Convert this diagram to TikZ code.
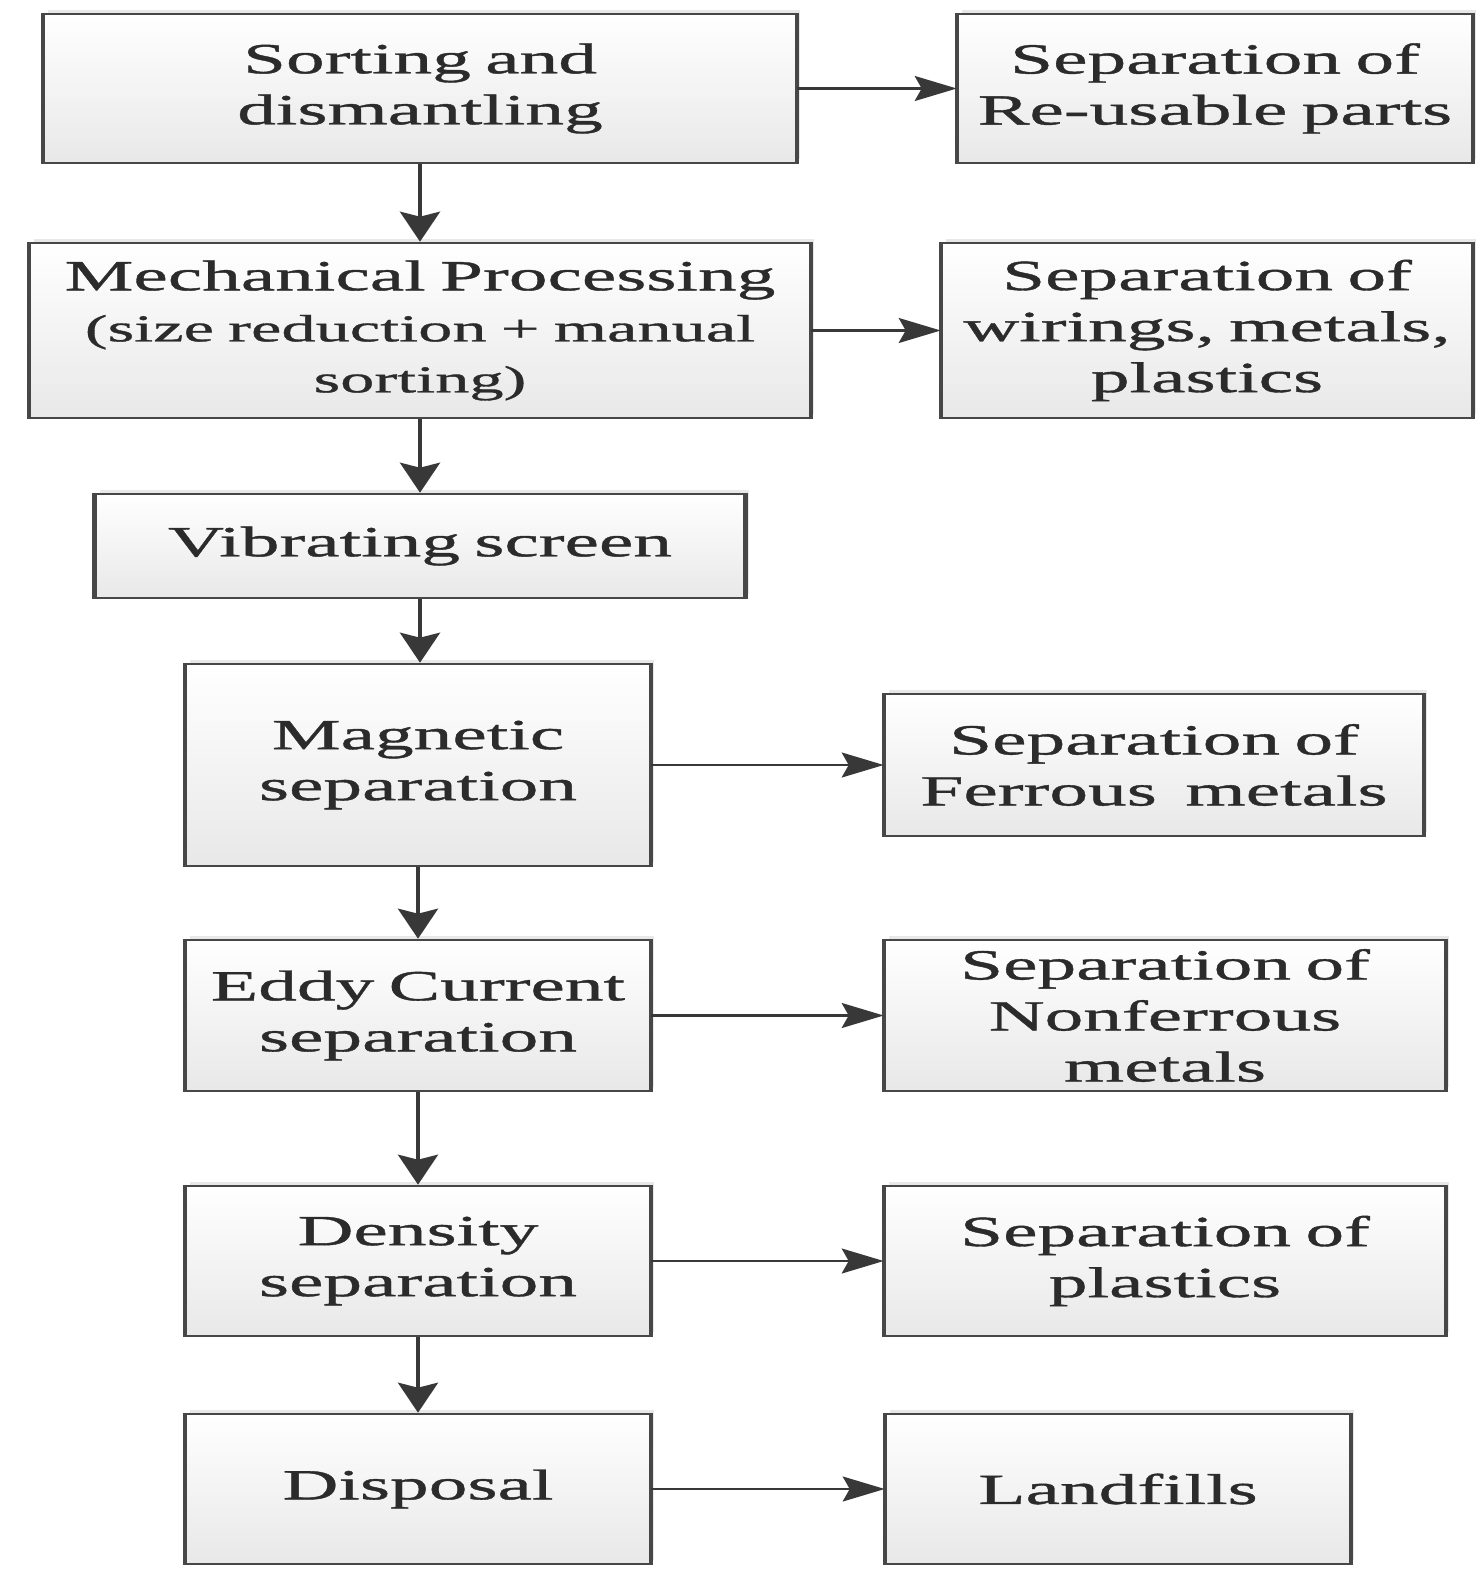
\documentclass[tikz,border=0pt]{standalone}
\usepackage{fontspec}
\setmainfont{Liberation Serif}[FakeStretch=1.8,FakeBold=0.9]
\usetikzlibrary{arrows.meta,shadows}
\definecolor{bd}{HTML}{474747}
\definecolor{tx}{HTML}{2B2B2B}
\definecolor{ar}{HTML}{383838}
\begin{document}
\begin{tikzpicture}[x=1pt,y=-1pt,
  flowbox/.style={draw=bd, line width=2.6pt, top color=white, bottom color=black!9,
    align=center, inner sep=0pt, text=tx,
    font=\fontsize{43}{51}\selectfont,
    drop shadow={opacity=0.18, shadow xshift=4pt, shadow yshift=4pt}},
  varrow/.style={draw=ar, line width=3.6pt, -{Stealth[length=30pt,width=40pt,inset=5pt]}},
  harrow/.style={draw=ar, line width=2.2pt, -{Stealth[length=42pt,width=25pt,inset=7pt]}}
]
\useasboundingbox[fill=white] (0,0) rectangle (1477,1571);

% left column
\node[flowbox, minimum width=752pt, minimum height=149pt, text width=740pt] (sort) at (420,88.5) {Sorting and\\dismantling};
\node[flowbox, minimum width=780pt, minimum height=175pt, text width=770pt] (mech) at (420,330.5) {Mechanical Processing\\{\fontsize{38}{51}\selectfont(size reduction + manual}\\{\fontsize{38}{51}\selectfont sorting)}};
\node[flowbox, minimum width=649pt, minimum height=104pt, text width=640pt] (vib) at (420,546) {Vibrating screen};
\node[flowbox, minimum width=464pt, minimum height=202pt, text width=455pt] (mag) at (418,765) {Magnetic\\separation};
\node[flowbox, minimum width=464pt, minimum height=151pt, text width=455pt] (eddy) at (418,1015.5) {Eddy Current\\separation};
\node[flowbox, minimum width=464pt, minimum height=150pt, text width=455pt] (dens) at (418,1261) {Density\\separation};
\node[flowbox, minimum width=464pt, minimum height=150pt, text width=455pt] (disp) at (418,1489) {Disposal};

% right column
\node[flowbox, minimum width=514pt, minimum height=149pt, text width=505pt] (reuse) at (1215,88.5) {Separation of\\Re-usable parts};
\node[flowbox, minimum width=530pt, minimum height=175pt, text width=520pt] (wire) at (1207,330.5) {Separation of\\wirings, metals,\\plastics};
\node[flowbox, minimum width=538pt, minimum height=142pt, text width=530pt] (ferr) at (1154,765) {Separation of\\Ferrous\ \ metals};
\node[flowbox, minimum width=560pt, minimum height=151pt, text width=550pt] (nonf) at (1165,1015.5) {Separation of\\Nonferrous\\metals};
\node[flowbox, minimum width=560pt, minimum height=150pt, text width=550pt] (plast) at (1165,1261) {Separation of\\plastics};
\node[flowbox, minimum width=464pt, minimum height=150pt, text width=455pt] (land) at (1118,1489) {Landfills};

% thicker vertical edges
\foreach \n in {sort,mech,vib,mag,eddy,dens,disp,reuse,wire,ferr,nonf,plast,land}
  \draw[bd, line width=4.2pt] (\n.north west) -- (\n.south west) (\n.north east) -- (\n.south east);

% vertical connectors
\draw[varrow] (sort.south) -- (mech.north);
\draw[varrow] (mech.south) -- (vib.north);
\draw[varrow] (vib.south) -- (vib.south |- mag.north);
\draw[varrow] (mag.south) -- (eddy.north);
\draw[varrow] (eddy.south) -- (dens.north);
\draw[varrow] (dens.south) -- (disp.north);

% horizontal connectors
\draw[harrow] (sort.east) -- (reuse.west);
\draw[harrow] (mech.east) -- (wire.west);
\draw[harrow] (mag.east) -- (ferr.west);
\draw[harrow] (eddy.east) -- (nonf.west);
\draw[harrow] (dens.east) -- (plast.west);
\draw[harrow] (disp.east) -- (land.west);
\end{tikzpicture}
\end{document}
